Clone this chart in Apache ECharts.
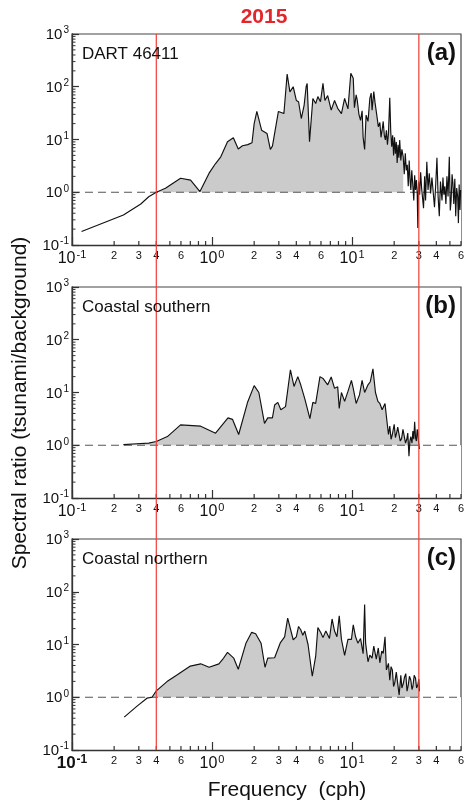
<!DOCTYPE html>
<html>
<head>
<meta charset="utf-8">
<script src="https://cdn.jsdelivr.net/npm/echarts@6/dist/echarts.min.js"></script>
<style>
  html, body { margin: 0; padding: 0; background: #fff; }
  #chart { width: 464px; height: 803px; }
</style>
</head>
<body>
<div id="chart"></div>
<script>
// Spectral ratio (tsunami / background), 2015 event, three records.

// (a) DART 46411
const freqA = [0.117, 0.233, 0.31, 0.353, 0.40, 0.465, 0.596, 0.703, 0.82, 0.953, 1.06, 1.155, 1.29, 1.42, 1.54, 1.65, 1.80, 1.93, 2.0, 2.09, 2.26, 2.47, 2.61, 2.70, 2.98, 3.26, 3.44, 3.6, 3.8, 4.0, 4.15, 4.34, 4.55, 4.7, 4.78, 4.97, 5.25, 5.5, 5.7, 5.95, 6.2, 6.4, 6.7, 7.1, 7.5, 7.9, 8.4, 8.85, 9.35, 9.8, 10.2, 10.4, 10.7, 10.9, 11.2, 11.5, 11.8, 12.0, 12.3, 12.6, 13.0, 13.4, 13.7, 13.9, 14.3, 14.6, 14.9, 15.2, 15.4, 15.8, 16.1, 16.4, 16.7, 17.0, 17.3, 17.6, 17.9, 18.2, 18.6, 18.9, 19.2, 19.5, 19.8, 20.1, 20.4, 20.7, 21.0, 21.3, 21.6, 21.9, 22.3, 22.7, 23.2, 23.6, 24.0, 24.4, 24.8, 25.2, 25.6, 26.0, 26.3, 26.7, 27.1, 27.6, 28.0, 28.4, 28.8, 29.2, 29.5, 29.9, 30.4, 30.9, 31.4, 31.9, 32.4, 33.0, 33.5, 34.2, 34.9, 35.6, 36.4, 37.2, 38.0, 38.8, 39.6, 40.4, 41.2, 42.0, 42.8, 43.9, 44.6, 45.3, 46.0, 46.8, 47.6, 48.5, 49.5, 50.3, 51.0, 51.8, 52.5, 53.3, 54.2, 55.0, 55.9, 56.8, 57.5, 58.2, 59.0, 59.6];
const ratioA = [0.18, 0.37, 0.6, 0.82, 1.0, 1.19, 1.84, 1.70, 1.03, 2.3, 3.5, 4.7, 9.1, 10.8, 6.6, 7.6, 8.0, 8.7, 20, 34, 15, 13, 6.5, 7.5, 34, 31, 174, 80, 100, 55, 52, 25, 45, 100, 115, 9.1, 60, 48, 65, 52, 116, 55, 68, 36, 55, 39, 31, 60, 38, 180, 145, 40, 70, 55, 30, 23, 35, 11, 6.5, 29, 22, 60, 76, 36, 81, 50, 48, 23, 17.5, 21, 11, 15, 22, 12, 9.8, 15, 8, 13, 62, 14, 7.3, 12, 5, 11, 5.4, 9, 3.6, 7.9, 4.5, 9.8, 4, 6.5, 4.7, 2.2, 5.5, 2.6, 3.3, 1.3, 4, 1.6, 1.1, 2.6, 1.5, 0.7, 2.1, 1.1, 1.7, 1.0, 0.21, 1.6, 0.9, 2.4, 1.2, 1.3, 0.5, 2.0, 0.7, 3.8, 1.1, 2.3, 0.95, 1.9, 2.0, 0.52, 1.4, 4.5, 0.8, 0.35, 1.6, 0.7, 1.9, 0.9, 1.3, 0.6, 2.0, 0.83, 4.7, 0.45, 0.7, 2.2, 1.5, 0.6, 1.8, 0.35, 1.2, 0.83, 0.26, 1.4, 0.46, 1.1];

// (b) Coastal southern
const freqB = [0.233, 0.29, 0.353, 0.40, 0.48, 0.596, 0.83, 1.06, 1.30, 1.40, 1.55, 1.80, 2.0, 2.16, 2.37, 2.5, 2.7, 2.8, 2.95, 3.1, 3.35, 3.63, 3.85, 4.1, 4.3, 4.6, 5.0, 5.25, 5.5, 5.9, 6.2, 6.4, 6.7, 7.1, 7.5, 7.9, 8.1, 8.4, 8.85, 9.35, 9.9, 10.2, 10.7, 11.3, 11.8, 12.3, 13.0, 13.5, 14.1, 14.7, 15.3, 15.8, 16.4, 17.2, 17.6, 18.2, 18.6, 19.0, 19.4, 20.0, 20.4, 20.8, 21.2, 21.7, 22.1, 22.6, 23.1, 23.6, 24.1, 24.6, 25.0, 25.5, 25.9, 26.3, 26.8, 27.2, 27.6, 28.0, 28.4, 28.8, 29.2, 29.5, 29.9, 30.3];
const ratioB = [1.03, 1.07, 1.1, 1.18, 1.46, 2.43, 2.3, 1.69, 3.3, 3.1, 1.6, 6.7, 13.5, 10, 2.6, 3.3, 3.3, 5.8, 6.5, 4.7, 5.4, 27, 13, 20, 14, 7.6, 3.2, 6.5, 6.2, 20, 18.5, 19.7, 14, 19.7, 12, 12.8, 5, 10, 6.8, 10.5, 17, 12, 6.2, 9, 17, 10, 14, 16, 28, 10, 6.8, 6.2, 4.7, 6.2, 3.5, 1.6, 2.3, 1.3, 1.6, 2.5, 1.4, 1.7, 2.2, 2.3, 1.2, 1.35, 2.0, 1.9, 1.1, 1.3, 1.7, 0.62, 1.2, 1.45, 1.1, 1.85, 1.3, 2.8, 1.4, 1.2, 2.0, 1.7, 1.1, 0.85];

// (c) Coastal northern
const freqC = [0.236, 0.29, 0.343, 0.373, 0.40, 0.477, 0.565, 0.70, 0.83, 0.953, 1.12, 1.19, 1.29, 1.43, 1.54, 1.75, 1.92, 2.05, 2.24, 2.39, 2.5, 2.8, 3.07, 3.3, 3.47, 3.58, 3.8, 4.0, 4.15, 4.3, 4.45, 4.6, 4.85, 5.2, 5.5, 5.7, 6.0, 6.2, 6.5, 6.9, 7.2, 7.5, 7.8, 8.1, 8.4, 8.85, 9.35, 9.9, 10.2, 10.6, 11.0, 11.5, 12.0, 12.3, 12.5, 13.0, 13.4, 13.9, 14.3, 14.9, 15.4, 15.8, 16.3, 16.7, 17.2, 17.6, 18.2, 18.6, 19.0, 19.4, 19.8, 20.2, 20.7, 21.2, 21.7, 22.3, 22.7, 23.2, 23.7, 24.2, 24.7, 25.2, 25.7, 26.3, 26.8, 27.2, 27.8, 28.4, 28.9, 29.5, 30.0, 30.3];
const ratioC = [0.42, 0.67, 0.96, 1.0, 1.32, 1.98, 2.66, 3.9, 4.3, 3.7, 4.3, 5.2, 7.1, 5.5, 3.4, 10.7, 17, 16, 10.6, 3.7, 5.5, 5.6, 10.7, 14, 31.6, 30, 12.3, 14, 22, 19, 15, 18, 10, 2.5, 6, 21, 16.5, 13.5, 18, 13, 30.5, 18, 14, 35, 12.5, 6.2, 12.5, 12.5, 23.6, 14, 10.6, 13, 6.7, 57, 10.6, 4.7, 6.3, 5.5, 9.3, 5.3, 8.6, 4.5, 7.5, 6.8, 14, 3.3, 4.4, 2.1, 3.8, 3.3, 1.6, 1.9, 3.0, 2.9, 1.1, 2.6, 1.5, 1.8, 2.4, 2.8, 1.3, 1.7, 2.5, 2.1, 1.4, 1.6, 2.6, 2.3, 1.5, 1.7, 2.2, 1.3];

// frequency span where the excess energy is shaded
const shadeA = [0.4, 23.2];
const shadeB = [0.233, 30.3];
const shadeC = [0.236, 30.3];

const panelNames = ['DART 46411', 'Coastal southern', 'Coastal northern'];
const panelTags = ['(a)', '(b)', '(c)'];

// vertical band limits (cph)
const bandLimits = [0.4, 30];

// axis ranges and tick layout
const xRange = [0.1, 60];
const yRange = [0.1, 1000];
const minorMantissas = [2, 3, 4, 5, 6, 7, 8, 9];
const labelledMantissas = [2, 3, 4, 6];
const xDecades = [0.1, 1, 10];
const yDecades = [0.1, 1, 10, 100];
const baseline = 1;

const panels = [
  { f: freqA, r: ratioA, shade: shadeA },
  { f: freqB, r: ratioB, shade: shadeB },
  { f: freqC, r: ratioC, shade: shadeC }
];

const FONT = '"Liberation Sans", Arial, Helvetica, sans-serif';
const AXIS_COLOR = '#333';
const gridTops = [34, 287, 539];
const gridLeft = 72, gridWidth = 389, gridHeight = 211;

const chart = echarts.init(document.getElementById('chart'), null, { renderer: 'canvas' });

function isPow10(v) {
  const e = Math.round(Math.log10(v));
  return Math.abs(v - Math.pow(10, e)) < 1e-6 * v;
}
function powLabel(v, boldFirst) {
  if (!isPow10(v)) return '';
  const e = Math.round(Math.log10(v));
  if (boldFirst && e === -1) return '{bb|10}{sb|' + e + '}';
  return '{b|10}{s|' + e + '}';
}

// tick marks between decades, plus small labels along x
const tickItems = [];
xDecades.forEach(d => minorMantissas.forEach(m => {
  const v = +(d * m).toPrecision(6);
  if (v <= xRange[1] + 1e-9) {
    tickItems.push([v, yRange[0], 0, labelledMantissas.indexOf(m) >= 0 ? m : 0]);
  }
}));
yDecades.forEach(d => minorMantissas.forEach(m => {
  const v = +(d * m).toPrecision(6);
  tickItems.push([xRange[0], v, 1, 0]);
}));

const grids = [], xAxes = [], yAxes = [], series = [];
const richX = {
  b: { fontSize: 16, fontFamily: FONT, color: '#111', verticalAlign: 'bottom', lineHeight: 18 },
  s: { fontSize: 11, fontFamily: FONT, color: '#111', verticalAlign: 'top', lineHeight: 18, padding: [0, 0, 0, 1] },
  bb: { fontSize: 17, fontWeight: 'bold', fontFamily: FONT, color: '#111', verticalAlign: 'bottom', lineHeight: 18 },
  sb: { fontSize: 12, fontWeight: 'bold', fontFamily: FONT, color: '#111', verticalAlign: 'top', lineHeight: 18, padding: [0, 0, 0, 1] }
};
const richY = {
  b: { fontSize: 15, fontFamily: FONT, color: '#111', verticalAlign: 'bottom', lineHeight: 17 },
  s: { fontSize: 10, fontFamily: FONT, color: '#111', verticalAlign: 'top', lineHeight: 17, padding: [0, 0, 0, 1] }
};

panels.forEach((p, i) => {
  grids.push({
    left: gridLeft, width: gridWidth, top: gridTops[i], height: gridHeight,
    show: true, borderColor: '#444', borderWidth: 1.2, backgroundColor: 'transparent'
  });
  xAxes.push({
    type: 'log', logBase: 10, gridIndex: i, min: xRange[0], max: xRange[1], z: 10,
    axisLine: { lineStyle: { color: AXIS_COLOR, width: 1.3 } },
    axisTick: { inside: true, length: 8, lineStyle: { color: AXIS_COLOR, width: 1.2 } },
    splitLine: { show: false },
    axisLabel: {
      margin: 4, showMaxLabel: false,
      formatter: v => powLabel(v, i === 2),
      rich: richX
    }
  });
  yAxes.push({
    type: 'log', logBase: 10, gridIndex: i, min: yRange[0], max: yRange[1], z: 10,
    axisLine: { lineStyle: { color: AXIS_COLOR, width: 1.3 } },
    axisTick: { inside: true, length: 7, lineStyle: { color: AXIS_COLOR, width: 1.2 } },
    splitLine: { show: false },
    axisLabel: { margin: 3, formatter: v => powLabel(v, false), rich: richY }
  });

  const pts = p.f.map((f, k) => [f, p.r[k]]);
  const shaded = pts.filter(d => d[0] >= p.shade[0] && d[0] <= p.shade[1])
                    .map(d => [d[0], Math.max(d[1], baseline)]);

  // shaded excess over the background
  series.push({
    type: 'line', xAxisIndex: i, yAxisIndex: i, data: shaded, symbol: 'none', silent: true,
    lineStyle: { width: 0 }, areaStyle: { color: '#cbcbcb', opacity: 1, origin: 'start' }, z: 1
  });
  // keep everything under the baseline blank
  series.push({
    type: 'line', xAxisIndex: i, yAxisIndex: i, symbol: 'none', silent: true,
    data: [[xRange[0], baseline], [xRange[1], baseline]],
    lineStyle: { width: 0 }, areaStyle: { color: '#ffffff', opacity: 1, origin: 'start' }, z: 1
  });
  // ratio = 1 reference
  series.push({
    type: 'line', xAxisIndex: i, yAxisIndex: i, symbol: 'none', silent: true,
    data: [[xRange[0], baseline], [xRange[1], baseline]],
    lineStyle: { color: '#555', width: 1.2, type: [8, 5] }, z: 3
  });
  // spectral ratio curve
  series.push({
    type: 'line', xAxisIndex: i, yAxisIndex: i, data: pts, symbol: 'none', silent: true,
    lineStyle: { color: '#111', width: 1.15 }, z: 4
  });
  // intermediate ticks
  series.push({
    type: 'custom', xAxisIndex: i, yAxisIndex: i, data: tickItems, silent: true, z: 11,
    clip: false,
    renderItem: (params, api) => {
      const c = api.coord([api.value(0), api.value(1)]);
      const kind = api.value(2);
      const lab = api.value(3);
      if (kind === 0) {
        const children = [{
          type: 'line',
          shape: { x1: c[0], y1: c[1], x2: c[0], y2: c[1] - 4 },
          style: { stroke: AXIS_COLOR, lineWidth: 1.2 }
        }];
        if (lab) {
          children.push({
            type: 'text',
            style: { text: String(lab), x: c[0], y: c[1] + 5, align: 'center', verticalAlign: 'top',
                     fontSize: 11, fontFamily: FONT, fill: '#111' }
          });
        }
        return { type: 'group', children };
      }
      return {
        type: 'line',
        shape: { x1: c[0], y1: c[1], x2: c[0] + 3.5, y2: c[1] },
        style: { stroke: AXIS_COLOR, lineWidth: 1 }
      };
    }
  });
});

// band limits spanning all three panels
grids.push({ left: gridLeft, width: gridWidth, top: gridTops[0], height: gridTops[2] + gridHeight - gridTops[0], show: false });
xAxes.push({ type: 'log', logBase: 10, gridIndex: 3, min: xRange[0], max: xRange[1], show: false });
yAxes.push({ type: 'value', gridIndex: 3, min: 0, max: 1, show: false });
bandLimits.forEach(b => {
  series.push({
    type: 'line', xAxisIndex: 3, yAxisIndex: 3, symbol: 'none', silent: true,
    data: [[b, 0], [b, 1]], lineStyle: { color: '#ef3e36', width: 1.2 }, z: 20
  });
});

const texts = [
  { type: 'text', x: 264, y: 17, z: 30, style: { text: '2015', fill: '#e3262b', font: 'bold 21px ' + FONT, align: 'center', verticalAlign: 'middle' } },
  { type: 'text', x: 20, y: 403, rotation: Math.PI / 2, z: 30, style: { text: 'Spectral ratio (tsunami/background)', fill: '#111', font: '21px ' + FONT, align: 'center', verticalAlign: 'middle' } },
  { type: 'text', x: 287, y: 790, z: 30, style: { text: 'Frequency  (cph)', fill: '#111', font: '21px ' + FONT, align: 'center', verticalAlign: 'middle' } }
];
panelNames.forEach((n, i) => {
  texts.push({ type: 'text', x: 82, y: gridTops[i] + 20, z: 30, style: { text: n, fill: '#111', font: '17px ' + FONT, align: 'left', verticalAlign: 'middle' } });
  texts.push({ type: 'text', x: 456, y: gridTops[i] + 19, z: 30, style: { text: panelTags[i], fill: '#111', font: 'bold 24px ' + FONT, align: 'right', verticalAlign: 'middle' } });
});

chart.setOption({
  animation: false,
  backgroundColor: '#fff',
  grid: grids,
  xAxis: xAxes,
  yAxis: yAxes,
  series: series,
  graphic: texts
});
</script>
</body>
</html>
